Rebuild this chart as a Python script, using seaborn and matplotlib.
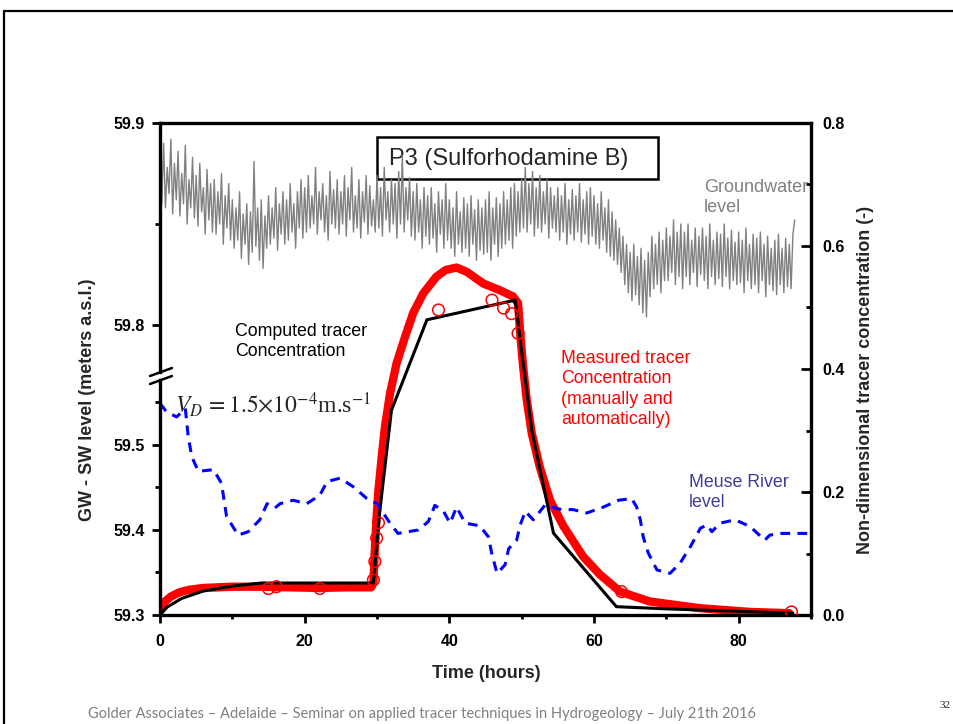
import numpy as np
import matplotlib
matplotlib.use('Agg')
import matplotlib.pyplot as plt
from matplotlib.lines import Line2D
from matplotlib.patches import Rectangle
from matplotlib.ticker import MultipleLocator, FormatStrFormatter
import seaborn as sns

# ---- data ----
# groundwater level (m a.s.l.), logger every quarter hour from t = 0 h
gw_level = [
    59.884, 59.860, 59.890, 59.858, 59.878, 59.865, 59.892, 59.855, 59.880, 59.862,
    59.886, 59.854, 59.875, 59.860, 59.889, 59.850, 59.872, 59.858, 59.883, 59.853,
    59.874, 59.849, 59.880, 59.856, 59.868, 59.845, 59.877, 59.852, 59.870, 59.846,
    59.872, 59.845, 59.866, 59.850, 59.875, 59.840, 59.864, 59.848, 59.870, 59.842,
    59.862, 59.838, 59.858, 59.842, 59.866, 59.833, 59.855, 59.840, 59.860, 59.830,
    59.856, 59.836, 59.881, 59.839, 59.858, 59.832, 59.862, 59.828, 59.854, 59.838,
    59.864, 59.840, 59.858, 59.843, 59.868, 59.837, 59.860, 59.845, 59.866, 59.840,
    59.862, 59.842, 59.870, 59.846, 59.860, 59.838, 59.866, 59.848, 59.872, 59.843,
    59.868, 59.846, 59.874, 59.848, 59.864, 59.850, 59.878, 59.845, 59.866, 59.852,
    59.870, 59.846, 59.864, 59.842, 59.876, 59.850, 59.867, 59.848, 59.872, 59.845,
    59.866, 59.850, 59.874, 59.844, 59.868, 59.852, 59.878, 59.846, 59.864, 59.848,
    59.872, 59.843, 59.866, 59.851, 59.874, 59.845, 59.869, 59.849, 59.862, 59.846,
    59.874, 59.848, 59.868, 59.844, 59.878, 59.852, 59.866, 59.846, 59.872, 59.850,
    59.870, 59.843, 59.876, 59.850, 59.884, 59.846, 59.868, 59.852, 59.873, 59.844,
    59.866, 59.842, 59.870, 59.846, 59.862, 59.838, 59.868, 59.844, 59.864, 59.840,
    59.868, 59.843, 59.860, 59.836, 59.866, 59.845, 59.862, 59.838, 59.870, 59.842,
    59.862, 59.838, 59.858, 59.834, 59.866, 59.840, 59.856, 59.836, 59.863, 59.838,
    59.860, 59.834, 59.864, 59.840, 59.857, 59.832, 59.862, 59.837, 59.858, 59.835,
    59.862, 59.836, 59.866, 59.832, 59.858, 59.840, 59.863, 59.834, 59.860, 59.838,
    59.866, 59.840, 59.862, 59.842, 59.868, 59.838, 59.870, 59.844, 59.866, 59.846,
    59.872, 59.848, 59.878, 59.846, 59.870, 59.850, 59.876, 59.844, 59.868, 59.848,
    59.874, 59.846, 59.866, 59.850, 59.872, 59.843, 59.868, 59.848, 59.864, 59.846,
    59.868, 59.842, 59.864, 59.846, 59.870, 59.840, 59.862, 59.845, 59.867, 59.842,
    59.864, 59.846, 59.870, 59.841, 59.862, 59.845, 59.866, 59.840, 59.868, 59.844,
    59.864, 59.840, 59.860, 59.838, 59.866, 59.842, 59.858, 59.836, 59.862, 59.834,
    59.856, 59.832, 59.852, 59.830, 59.848, 59.826, 59.844, 59.820, 59.840, 59.816,
    59.836, 59.812, 59.840, 59.815, 59.834, 59.810, 59.838, 59.806, 59.832, 59.804,
    59.836, 59.814, 59.844, 59.818, 59.840, 59.820, 59.846, 59.816, 59.842, 59.822,
    59.848, 59.822, 59.844, 59.826, 59.852, 59.820, 59.846, 59.824, 59.850, 59.818,
    59.846, 59.824, 59.850, 59.820, 59.842, 59.826, 59.848, 59.819, 59.844, 59.825,
    59.848, 59.822, 59.844, 59.818, 59.850, 59.824, 59.842, 59.820, 59.846, 59.823,
    59.845, 59.819, 59.850, 59.824, 59.843, 59.818, 59.847, 59.822, 59.841, 59.820,
    59.846, 59.821, 59.842, 59.816, 59.848, 59.822, 59.840, 59.818, 59.845, 59.820,
    59.843, 59.816, 59.846, 59.822, 59.840, 59.814, 59.844, 59.820, 59.838, 59.817,
    59.842, 59.815, 59.845, 59.820, 59.838, 59.816, 59.843, 59.819, 59.840, 59.818,
    59.845, 59.852,
]
gw_t = np.arange(len(gw_level)) * 0.25

# Meuse river level (m a.s.l.)
river_t = [0.0, 0.9, 2.3, 3.5, 3.9, 4.4, 5.3, 7.4, 8.5, 9.2,
           10.8, 12.2, 13.8, 14.8, 15.9, 16.6, 18.4, 20.3, 22.1, 23.1,
           24.9, 26.7, 28.6, 30.0, 31.8, 32.9, 35.7, 37.1, 38.0, 39.2,
           40.1, 41.0, 42.2, 44.2, 45.4, 45.9, 46.6, 47.7, 48.2, 49.3,
           49.8, 50.5, 51.6, 53.2, 55.5, 57.1, 59.0, 61.3, 63.4, 65.2,
           65.9, 66.4, 66.8, 67.5, 68.7, 70.5, 71.9, 73.3, 74.7, 75.6,
           76.3, 77.4, 79.5, 81.6, 83.6, 84.3, 86.0, 88.5, 90.0]
river_lvl = [59.549, 59.539, 59.533, 59.543, 59.510, 59.486, 59.469, 59.471, 59.455, 59.416,
             59.394, 59.398, 59.412, 59.431, 59.426, 59.431, 59.435, 59.431, 59.441, 59.457,
             59.461, 59.451, 59.437, 59.431, 59.408, 59.396, 59.400, 59.410, 59.429, 59.422,
             59.408, 59.427, 59.408, 59.405, 59.392, 59.371, 59.349, 59.359, 59.378, 59.388,
             59.406, 59.422, 59.412, 59.429, 59.424, 59.424, 59.420, 59.427, 59.435, 59.437,
             59.427, 59.412, 59.392, 59.373, 59.353, 59.349, 59.361, 59.380, 59.402, 59.406,
             59.398, 59.408, 59.412, 59.404, 59.388, 59.394, 59.396, 59.396, 59.396]

# measured tracer concentration (automatic, continuous)
meas_t = [0, 0.5, 1.5, 2.7, 4, 6, 8, 10, 14, 18, 22, 26, 29.2, 29.5, 29.7, 29.95,
          30.2, 30.65, 31.1, 31.8, 32.7, 33.9, 35.0, 36.4, 38.2, 39.5, 41.0, 42.4,
          44.7, 47.0, 48.8, 49.5, 49.8, 50.2, 50.7, 51.4, 52.5, 53.9, 55.8, 58.5,
          60.8, 63.6, 67.7, 74.7, 81.6, 87.0]
meas_c = [0.012, 0.020, 0.030, 0.037, 0.041, 0.044, 0.045, 0.046, 0.046, 0.045, 0.044,
          0.045, 0.045, 0.052, 0.106, 0.160, 0.203, 0.257, 0.306, 0.360, 0.409, 0.453,
          0.491, 0.523, 0.550, 0.561, 0.565, 0.558, 0.539, 0.528, 0.518, 0.507, 0.458,
          0.404, 0.350, 0.295, 0.241, 0.187, 0.144, 0.095, 0.066, 0.038, 0.022, 0.011,
          0.005, 0.003]

# manual samples
obs_t = [15.0, 16.1, 22.1, 29.5, 29.7, 29.95, 30.2, 38.5, 45.9, 47.5, 48.6, 49.5, 63.8, 87.3]
obs_c = [0.043, 0.046, 0.043, 0.057, 0.087, 0.125, 0.150, 0.496, 0.512, 0.499, 0.490,
         0.458, 0.038, 0.005]

# computed tracer concentration
comp_t = [0, 1, 3, 6, 10, 14, 29.5, 30.3, 32.0, 36.9, 49.1, 51.4, 54.4, 63.1, 70, 80, 87.5]
comp_c = [0.0, 0.013, 0.027, 0.039, 0.047, 0.052, 0.052, 0.160, 0.333, 0.480, 0.512,
          0.300, 0.133, 0.0135, 0.010, 0.006, 0.003]

# ---- style ----
sns.set_style('ticks')
plt.rcParams['font.family'] = ['Liberation Sans', 'DejaVu Sans']
plt.rcParams['mathtext.fontset'] = 'stix'
plt.rcParams['axes.edgecolor'] = 'black'
plt.rcParams['xtick.color'] = 'black'
plt.rcParams['ytick.color'] = 'black'

W, H = 954, 724
fig = plt.figure(figsize=(W / 100, H / 100), dpi=100)


def rect(x0, y0, x1, y1):
    # pixel box on the slide -> figure fraction
    return [x0 / W, 1 - y1 / H, (x1 - x0) / W, (y1 - y0) / H]


ax = fig.add_axes(rect(160, 123, 811, 615))      # concentration (right axis)
ax_top = fig.add_axes(rect(160, 123, 811, 372))  # groundwater (upper left axis)
ax_bot = fig.add_axes(rect(160, 380, 811, 615))  # river (lower left axis)
ax_top.set_zorder(0)
ax.set_zorder(1)
ax_bot.set_zorder(2)
for a in (ax, ax_top, ax_bot):
    a.patch.set_visible(False)
    a.set_xlim(0, 90)

lw_spine = 2.4
tick_fs = 11.5

# concentration axis
sns.lineplot(x=meas_t, y=meas_c, ax=ax, color='red', lw=6, sort=False,
             estimator=None, solid_capstyle='round')
sns.lineplot(x=comp_t, y=comp_c, ax=ax, color='black', lw=2.2, sort=False,
             estimator=None)
sns.scatterplot(x=obs_t, y=obs_c, ax=ax, marker='o', s=70, color='red',
                facecolor='none', edgecolor='red', linewidth=1.1, zorder=5)
ax.set_ylim(0, 0.8)
ax.spines['left'].set_visible(False)
for s in ('top', 'right', 'bottom'):
    ax.spines[s].set_linewidth(lw_spine)
ax.yaxis.tick_right()
ax.yaxis.set_major_locator(MultipleLocator(0.2))
ax.yaxis.set_minor_locator(MultipleLocator(0.1))
ax.yaxis.set_major_formatter(FormatStrFormatter('%.1f'))
ax.xaxis.set_major_locator(MultipleLocator(20))
ax.xaxis.set_minor_locator(MultipleLocator(10))
ax.tick_params(axis='y', which='major', direction='in', length=7.5, width=2,
               labelsize=tick_fs, pad=8)
ax.tick_params(axis='y', which='minor', direction='in', length=3.5, width=2)
ax.tick_params(axis='x', which='major', direction='out', length=6, width=2,
               labelsize=tick_fs, pad=7.5)
ax.tick_params(axis='x', which='minor', direction='out', length=3, width=2)
ax.set_xlabel('')
ax.set_ylabel('')

# upper left axis: groundwater
ax_top.add_patch(Rectangle((0.333, 0.775), 0.432, 0.169, transform=ax_top.transAxes,
                           facecolor='white', edgecolor='black', lw=1.8, zorder=1))
ax_top.text(0.351, 0.831, 'P3 (Sulforhodamine B)', transform=ax_top.transAxes,
            fontsize=17, va='baseline', zorder=1.5)
sns.lineplot(x=gw_t, y=gw_level, ax=ax_top, color='#808080', lw=1.0, sort=False,
             estimator=None, zorder=2)
ax_top.set_ylim(59.9 - 249 / 2020, 59.9)
ax_top.yaxis.set_major_locator(MultipleLocator(0.1))
ax_top.yaxis.set_minor_locator(MultipleLocator(0.05))

# lower left axis: river
sns.lineplot(x=river_t, y=river_lvl, ax=ax_bot, color='#0000ff', lw=2.2, sort=False,
             estimator=None, linestyle=(0, (3.2, 2.4)))
ax_bot.set_ylim(59.3, 59.3 + 235 / 850)
ax_bot.yaxis.set_major_locator(MultipleLocator(0.1))
ax_bot.yaxis.set_minor_locator(MultipleLocator(0.05))

for a in (ax_top, ax_bot):
    for s in ('top', 'right', 'bottom'):
        a.spines[s].set_visible(False)
    a.spines['left'].set_linewidth(lw_spine)
    a.xaxis.set_visible(False)
    a.yaxis.set_major_formatter(FormatStrFormatter('%.1f'))
    a.tick_params(axis='y', which='major', direction='out', length=6, width=2,
                  labelsize=tick_fs, pad=5)
    a.tick_params(axis='y', which='minor', direction='out', length=3.5, width=2)
    a.set_xlabel('')
    a.set_ylabel('')

# bold tick labels (later ticks copy these properties)
for a in (ax, ax_top, ax_bot):
    plt.setp(a.get_xticklabels() + a.get_yticklabels(), fontweight='bold')

# axis break marks
for yb in (372, 380):
    fig.add_artist(Line2D([150 / W, 172 / W], [1 - (yb + 4) / H, 1 - (yb - 4) / H],
                          color='black', lw=1.8))

# axis titles
fig.text(486 / W, 1 - 673 / H, 'Time (hours)', ha='center', va='center',
         fontsize=13, weight='bold')
fig.text(88 / W, 1 - 400 / H, 'GW - SW level (meters a.s.l.)', rotation=90,
         ha='center', va='center', fontsize=13, weight='bold')
fig.text(866 / W, 1 - 380 / H, 'Non-dimensional tracer concentration (-)', rotation=90,
         ha='center', va='center', fontsize=13, weight='bold')

# annotations (va='baseline' pins the last line)
fig.text(704 / W, 1 - 212 / H, 'Groundwater\nlevel', color='#808080', fontsize=13,
         va='baseline', linespacing=1.25)
fig.text(235 / W, 1 - 356 / H, 'Computed tracer\nConcentration', color='black',
         fontsize=12.8, va='baseline', linespacing=1.25)
fig.text(561 / W, 1 - 424 / H, 'Measured tracer\nConcentration\n(manually and\nautomatically)',
         color='red', fontsize=12.8, va='baseline', linespacing=1.25)
fig.text(689 / W, 1 - 507 / H, 'Meuse River\nlevel', color='#3c3c9c', fontsize=12.8,
         va='baseline', linespacing=1.25)
fig.text(175 / W, 1 - 413 / H, r'$V_D\,= 1.5{\times}10^{-4}$m.s$^{-1}$',
         family='Liberation Serif', fontsize=17, va='baseline')

# slide frame, footer, page number
fig.add_artist(Line2D([4 / W, 1], [1 - 11 / H, 1 - 11 / H], color='black', lw=1.6))
fig.add_artist(Line2D([4 / W, 4 / W], [0, 1 - 11 / H], color='black', lw=1.6))
fig.text(88 / W, 1 - 718 / H,
         'Golder Associates \u2013 Adelaide \u2013 Seminar on applied tracer techniques in '
         'Hydrogeology \u2013 July 21th 2016',
         family='Lato', color='#808080', fontsize=10.5, va='baseline')
fig.text(940 / W, 1 - 708 / H, '32', family='Liberation Serif', fontsize=8,
         color='#222222', va='baseline')

fig.savefig('out.png', dpi=100, facecolor='white')
